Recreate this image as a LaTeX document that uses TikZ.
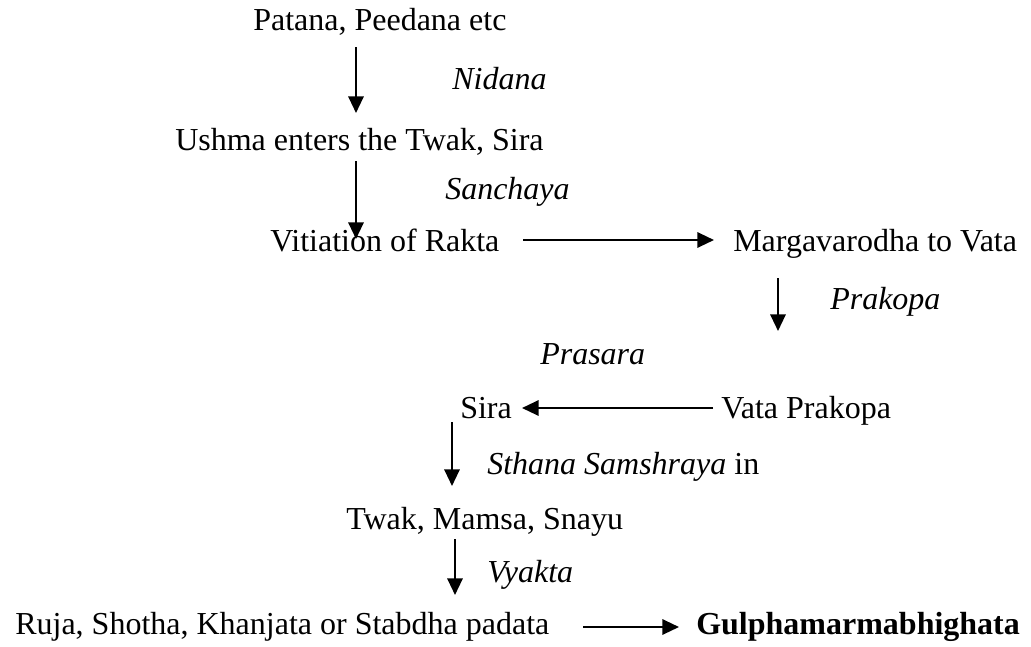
\documentclass[tikz,border=0pt]{standalone}
\usepackage{fontspec}
\setmainfont{Liberation Serif}
\usetikzlibrary{arrows.meta}
\begin{document}
\begin{tikzpicture}[x=0.75pt,y=-0.75pt,
  lbl/.style={anchor=base west,inner sep=0pt,font=\fontsize{24}{28}\selectfont},
  stage/.style={lbl,font=\fontsize{24}{28}\selectfont\itshape},
  arr/.style={line width=1.6pt,-{Triangle[length=12.5pt,width=11.5pt]}}]
\useasboundingbox (0,0) rectangle (1031,646);

% states of the pathway
\node[lbl] (patana) at (253,31) {Patana, Peedana etc};
\node[lbl] (ushma) at (175,150) {Ushma enters the Twak, Sira};
\node[lbl] (vitiation) at (270,251) {Vitiation of Rakta};
\node[lbl] (marga) at (733,251) {Margavarodha to Vata};
\node[lbl] (sira) at (460,418) {Sira};
\node[lbl] (vataprakopa) at (721,418) {Vata Prakopa};
\node[lbl] (twak) at (346,529) {Twak, Mamsa, Snayu};
\node[lbl] (ruja) at (15,634) {Ruja, Shotha, Khanjata or Stabdha padata};
\node[lbl,font=\fontsize{24}{28}\selectfont\bfseries] (gulpha) at (696,634) {Gulphamarmabhighata};

% stage names
\node[stage] (nidana) at (452,89) {Nidana};
\node[stage] (sanchaya) at (445,199) {Sanchaya};
\node[stage] (prakopa) at (830,309) {Prakopa};
\node[stage] (prasara) at (540,364) {Prasara};
\node[stage] (sthana) at (487,474) {Sthana Samshraya \upshape in};
\node[stage] (vyakta) at (487,582) {Vyakta};

% arrow end points
\coordinate (a1s) at (356,47);  \coordinate (a1e) at (356,113);
\coordinate (a2s) at (356,161); \coordinate (a2e) at (356,239);
\coordinate (a3s) at (523,240); \coordinate (a3e) at (714,240);
\coordinate (a4s) at (778,278); \coordinate (a4e) at (778,331);
\coordinate (a5s) at (713,408); \coordinate (a5e) at (522,408);
\coordinate (a6s) at (452,422); \coordinate (a6e) at (452,486);
\coordinate (a7s) at (455,539); \coordinate (a7e) at (455,595);
\coordinate (a8s) at (583,627); \coordinate (a8e) at (679,627);

\draw[arr] (a1s) -- (a1e);
\draw[arr] (a2s) -- (a2e);
\draw[arr] (a3s) -- (a3e);
\draw[arr] (a4s) -- (a4e);
\draw[arr] (a5s) -- (a5e);
\draw[arr] (a6s) -- (a6e);
\draw[arr] (a7s) -- (a7e);
\draw[arr] (a8s) -- (a8e);
\end{tikzpicture}
\end{document}
